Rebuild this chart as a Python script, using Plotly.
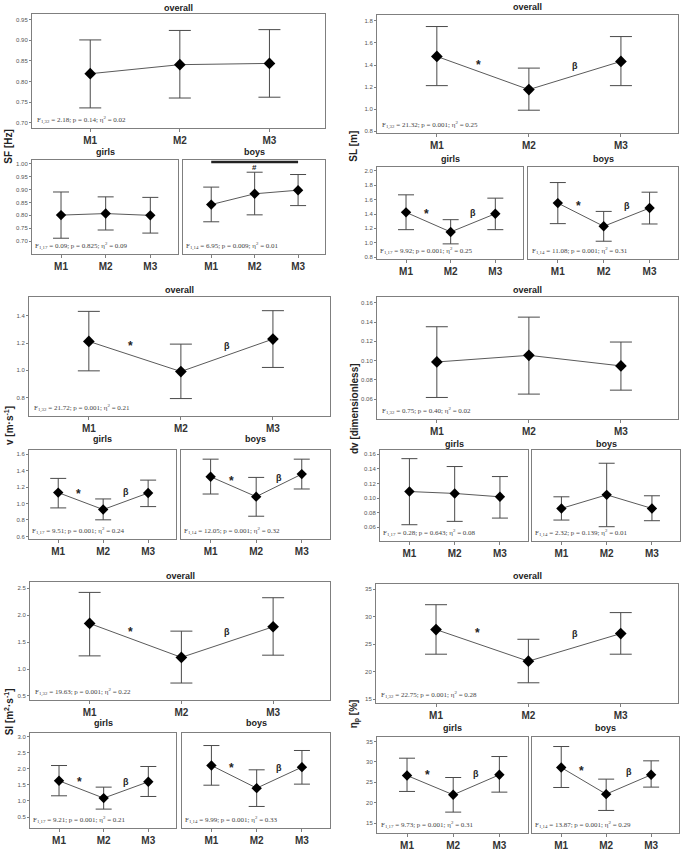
import plotly.graph_objects as go

W, H = 687, 859
categories = ["M1", "M2", "M3"]

# ---------------- SF [Hz] ----------------
sf_all_mean = [0.819, 0.841, 0.844]
sf_all_lo = [0.736, 0.760, 0.762]
sf_all_hi = [0.901, 0.924, 0.926]
sf_girls_mean = [0.801, 0.807, 0.800]
sf_girls_lo = [0.711, 0.743, 0.731]
sf_girls_hi = [0.891, 0.872, 0.870]
sf_boys_mean = [0.842, 0.884, 0.898]
sf_boys_lo = [0.775, 0.802, 0.838]
sf_boys_hi = [0.910, 0.968, 0.959]
sf_all_ticks = [0.70, 0.75, 0.80, 0.85, 0.90, 0.95]
sf_sub_ticks = [0.70, 0.75, 0.80, 0.85, 0.90, 0.95, 1.00]

# ---------------- v [m/s] ----------------
v_all_mean = [1.212, 0.991, 1.229]
v_all_lo = [0.996, 0.793, 1.021]
v_all_hi = [1.432, 1.192, 1.437]
v_girls_mean = [1.133, 0.927, 1.128]
v_girls_lo = [0.947, 0.802, 0.963]
v_girls_hi = [1.306, 1.056, 1.285]
v_boys_mean = [1.326, 1.084, 1.358]
v_boys_lo = [1.116, 0.846, 1.177]
v_boys_hi = [1.540, 1.318, 1.540]
v_all_ticks = [0.8, 1.0, 1.2, 1.4]
v_sub_ticks = [0.6, 0.8, 1.0, 1.2, 1.4, 1.6]

# ---------------- SI ----------------
si_all_mean = [1.848, 1.217, 1.786]
si_all_lo = [1.245, 0.740, 1.258]
si_all_hi = [2.425, 1.705, 2.326]
si_girls_mean = [1.626, 1.089, 1.595]
si_girls_lo = [1.161, 0.748, 1.140]
si_girls_hi = [2.100, 1.430, 2.070]
si_boys_mean = [2.101, 1.399, 2.050]
si_boys_lo = [1.490, 0.830, 1.523]
si_boys_hi = [2.720, 1.967, 2.566]
si_all_ticks = [0.5, 1.0, 1.5, 2.0, 2.5]
si_sub_ticks = [0.5, 1.0, 1.5, 2.0, 2.5, 3.0]

# ---------------- SL [m] ----------------
sl_all_mean = [1.478, 1.177, 1.433]
sl_all_lo = [1.213, 0.990, 1.213]
sl_all_hi = [1.749, 1.372, 1.658]
sl_girls_mean = [1.423, 1.150, 1.404]
sl_girls_lo = [1.182, 0.984, 1.182]
sl_girls_hi = [1.667, 1.321, 1.621]
sl_boys_mean = [1.552, 1.229, 1.483]
sl_boys_lo = [1.266, 1.021, 1.261]
sl_boys_hi = [1.838, 1.436, 1.704]
sl_all_ticks = [0.8, 1.0, 1.2, 1.4, 1.6, 1.8]
sl_sub_ticks = [0.8, 1.0, 1.2, 1.4, 1.6, 1.8, 2.0]

# ---------------- dv ----------------
dv_all_mean = [0.0986, 0.1055, 0.0945]
dv_all_lo = [0.0617, 0.0652, 0.0693]
dv_all_hi = [0.1352, 0.1452, 0.1193]
dv_girls_mean = [0.1090, 0.1064, 0.1018]
dv_girls_lo = [0.0636, 0.0682, 0.0727]
dv_girls_hi = [0.1540, 0.1432, 0.1295]
dv_boys_mean = [0.0859, 0.1045, 0.0859]
dv_boys_lo = [0.0700, 0.0609, 0.0691]
dv_boys_hi = [0.1018, 0.1477, 0.1032]
dv_all_ticks = [0.06, 0.08, 0.10, 0.12, 0.14, 0.16]
dv_sub_ticks = [0.06, 0.08, 0.10, 0.12, 0.14, 0.16]

# ---------------- eta_p [%] ----------------
eta_all_mean = [27.67, 21.90, 26.94]
eta_all_lo = [23.18, 17.97, 23.18]
eta_all_hi = [32.20, 25.90, 30.76]
eta_girls_mean = [26.67, 21.94, 26.84]
eta_girls_lo = [22.76, 17.69, 22.59]
eta_girls_hi = [30.92, 26.18, 31.33]
eta_boys_mean = [28.63, 22.10, 26.84]
eta_boys_lo = [23.73, 18.10, 23.82]
eta_boys_hi = [33.78, 25.78, 30.27]
eta_all_ticks = [15, 20, 25, 30, 35]
eta_sub_ticks = [15, 20, 25, 30, 35]

# statistics text
stats = {
    "sf_all": "F<sub>1,32</sub> = 2.18; p = 0.14; η<sup>2</sup> = 0.02",
    "sf_girls": "F<sub>1,17</sub> = 0.09; p = 0.825; η<sup>2</sup> = 0.09",
    "sf_boys": "F<sub>1,14</sub> = 6.95; p = 0.009; η<sup>2</sup> = 0.01",
    "v_all": "F<sub>1,32</sub> = 21.72; p = 0.001; η<sup>2</sup> = 0.21",
    "v_girls": "F<sub>1,17</sub> = 9.51; p = 0.001; η<sup>2</sup> = 0.24",
    "v_boys": "F<sub>1,14</sub> = 12.05; p = 0.001; η<sup>2</sup> = 0.32",
    "si_all": "F<sub>1,32</sub> = 19.63; p = 0.001; η<sup>2</sup> = 0.22",
    "si_girls": "F<sub>1,17</sub> = 9.21; p = 0.001; η<sup>2</sup> = 0.21",
    "si_boys": "F<sub>1,14</sub> = 9.99; p = 0.001; η<sup>2</sup> = 0.33",
    "sl_all": "F<sub>1,32</sub> = 21.32; p = 0.001; η<sup>2</sup> = 0.25",
    "sl_girls": "F<sub>1,17</sub> = 9.92; p = 0.001; η<sup>2</sup> = 0.25",
    "sl_boys": "F<sub>1,14</sub> = 11.08; p = 0.001; η<sup>2</sup> = 0.31",
    "dv_all": "F<sub>1,32</sub> = 0.75; p = 0.40; η<sup>2</sup> = 0.02",
    "dv_girls": "F<sub>1,17</sub> = 0.28; p = 0.643; η<sup>2</sup> = 0.08",
    "dv_boys": "F<sub>1,14</sub> = 2.32; p = 0.139; η<sup>2</sup> = 0.01",
    "eta_all": "F<sub>1,32</sub> = 22.75; p = 0.001; η<sup>2</sup> = 0.28",
    "eta_girls": "F<sub>1,17</sub> = 9.73; p = 0.001; η<sup>2</sup> = 0.31",
    "eta_boys": "F<sub>1,14</sub> = 13.87; p = 0.001; η<sup>2</sup> = 0.29",
}

# panels: (key, title, mean, lo, hi, ticks, tickfmt, box px (x0,x1,y0,y1), yrange, title_y, show_y, marks)
panels = [
    ("sf_all", "overall", sf_all_mean, sf_all_lo, sf_all_hi, sf_all_ticks, ".2f", (32, 325, 14, 128), (0.688, 0.964), 8, True, None),
    ("sf_girls", "girls", sf_girls_mean, sf_girls_lo, sf_girls_hi, sf_sub_ticks, ".2f", (32, 178, 160, 255), (0.648, 1.017), 152, True, None),
    ("sf_boys", "boys", sf_boys_mean, sf_boys_lo, sf_boys_hi, sf_sub_ticks, ".2f", (183, 325, 160, 255), (0.648, 1.017), 152, False, None),
    ("v_all", "overall", v_all_mean, v_all_lo, v_all_hi, v_all_ticks, ".1f", (29, 330, 298, 417), (0.665, 1.535), 291, True, (1.18, 1.18)),
    ("v_girls", "girls", v_girls_mean, v_girls_lo, v_girls_hi, v_sub_ticks, ".1f", (29, 176, 451, 540), (0.572, 1.652), 440, True, (1.116, 1.136)),
    ("v_boys", "boys", v_boys_mean, v_boys_lo, v_boys_hi, v_sub_ticks, ".1f", (181, 330, 451, 540), (0.572, 1.652), 440, False, (1.277, 1.31)),
    ("si_all", "overall", si_all_mean, si_all_lo, si_all_hi, si_all_ticks, ".1f", (30, 330, 583, 702), (0.418, 2.625), 577, True, (1.693, 1.693)),
    ("si_girls", "girls", si_girls_mean, si_girls_lo, si_girls_hi, si_sub_ticks, ".1f", (30, 176, 735, 830), (0.16, 3.10), 725, True, (1.574, 1.574)),
    ("si_boys", "boys", si_boys_mean, si_boys_lo, si_boys_hi, si_sub_ticks, ".1f", (182, 330, 735, 830), (0.16, 3.10), 725, False, (2.018, 2.018)),
    ("sl_all", "overall", sl_all_mean, sl_all_lo, sl_all_hi, sl_all_ticks, ".1f", (377, 678, 15, 133), (0.786, 1.854), 7, True, (1.402, 1.387)),
    ("sl_girls", "girls", sl_girls_mean, sl_girls_lo, sl_girls_hi, sl_sub_ticks, ".1f", (377, 523, 167, 260), (0.768, 2.06), 159, True, (1.404, 1.413)),
    ("sl_boys", "boys", sl_boys_mean, sl_boys_lo, sl_boys_hi, sl_sub_ticks, ".1f", (528, 678, 167, 260), (0.768, 2.06), 159, False, (1.506, 1.515)),
    ("dv_all", "overall", dv_all_mean, dv_all_lo, dv_all_hi, dv_all_ticks, ".2f", (377, 678, 298, 420), (0.0393, 0.1658), 291, True, None),
    ("dv_girls", "girls", dv_girls_mean, dv_girls_lo, dv_girls_hi, dv_sub_ticks, ".2f", (380, 528, 451, 542), (0.0417, 0.1659), 445, True, None),
    ("dv_boys", "boys", dv_boys_mean, dv_boys_lo, dv_boys_hi, dv_sub_ticks, ".2f", (532, 680, 451, 542), (0.0417, 0.1659), 445, False, None),
    ("eta_all", "overall", eta_all_mean, eta_all_lo, eta_all_hi, eta_all_ticks, "d", (376, 678, 585, 705), (14.22, 36.04), 577, True, (27.12, 26.94)),
    ("eta_girls", "girls", eta_girls_mean, eta_girls_lo, eta_girls_hi, eta_sub_ticks, "d", (377, 528, 739, 835), (12.55, 36.05), 730, True, (26.84, 27.0)),
    ("eta_boys", "boys", eta_boys_mean, eta_boys_lo, eta_boys_hi, eta_sub_ticks, "d", (532, 679, 739, 835), (12.55, 36.05), 730, False, (27.82, 27.65)),
]

SANS = "Liberation Sans"
SERIF = "Liberation Serif"
BOX = "#7f7f7f"

fig = go.Figure()
annotations = []
shapes = []
layout = {}

for i, (key, title, mean, lo, hi, ticks, fmt, box, yr, ty, show_y, marks) in enumerate(panels, start=1):
    xa = "x" if i == 1 else f"x{i}"
    ya = "y" if i == 1 else f"y{i}"
    overall = title == "overall"
    fig.add_trace(go.Scatter(
        x=categories, y=mean, mode="lines+markers", xaxis=xa, yaxis=ya,
        line=dict(color="#5a5a5a", width=1),
        marker=dict(symbol="diamond", size=9 if overall else 8, color="black"),
        error_y=dict(type="data", symmetric=False,
                     array=[h - m for h, m in zip(hi, mean)],
                     arrayminus=[m - l for m, l in zip(mean, lo)],
                     color="#4a4a4a", thickness=1, width=11 if overall else 8),
        showlegend=False, hoverinfo="skip"))
    x0, x1, y0, y1 = box
    xname = "xaxis" if i == 1 else f"xaxis{i}"
    yname = "yaxis" if i == 1 else f"yaxis{i}"
    layout[xname] = dict(
        domain=[x0 / W, x1 / W], anchor=ya, range=[-0.65, 2.62], type="category",
        showline=True, mirror=True, linecolor=BOX, linewidth=1,
        ticks="outside", ticklen=3, tickcolor=BOX,
        tickfont=dict(family=SANS, size=10, color="#333333", weight="bold"),
        showgrid=False, zeroline=False)
    ydict = dict(
        domain=[1 - y1 / H, 1 - y0 / H], anchor=xa, range=list(yr),
        showline=True, mirror=True, linecolor=BOX, linewidth=1,
        showgrid=False, zeroline=False)
    if show_y:
        ydict.update(tickvals=ticks, tickformat=fmt, ticks="outside", ticklen=2,
                     tickcolor=BOX, showticklabels=True,
                     tickfont=dict(family=SANS, size=6, color="#555555"))
    else:
        ydict.update(tickvals=[], ticks="", showticklabels=False)
    layout[yname] = ydict
    annotations.append(dict(
        x=(x0 + x1) / 2 / W, y=1 - ty / H, xref="paper", yref="paper",
        text=title, showarrow=False, xanchor="center", yanchor="middle",
        font=dict(family=SANS, size=9, color="#222222", weight="bold")))
    annotations.append(dict(
        x=0.01, y=0.01, xref=f"{xa} domain", yref=f"{ya} domain",
        text=stats[key], showarrow=False, xanchor="left", yanchor="bottom",
        font=dict(family=SERIF, size=7, color="#444444")))
    if marks is not None:
        annotations.append(dict(x=0.45, y=marks[0], xref=xa, yref=ya, text="*",
                                showarrow=False, yanchor="middle",
                                font=dict(family=SANS, size=12, color="#222222", weight="bold")))
        annotations.append(dict(x=1.5, y=marks[1], xref=xa, yref=ya, text="β",
                                showarrow=False, yanchor="middle",
                                font=dict(family=SANS, size=9, color="#222222", weight="bold")))
    if key == "sf_boys":
        shapes.append(dict(type="line", xref=xa, yref=ya, x0=0, x1=2, y0=1.008, y1=1.008,
                           line=dict(color="#222222", width=2.5)))
        annotations.append(dict(x=1, y=0.986, xref=xa, yref=ya, text="#",
                                showarrow=False, yanchor="middle",
                                font=dict(family=SANS, size=8, color="#222222", weight="bold")))

# y-axis group labels
ylabels = [
    ("SF [Hz]", 9, 147),
    ("v [m·s<sup>-1</sup>]", 9, 427),
    ("SI [m<sup>2</sup>·s<sup>-1</sup>]", 9, 714),
    ("SL [m]", 354, 147),
    ("dv [dimensionless]", 354, 410),
    ("η<sub>p</sub> [%]", 354, 716),
]
for txt, px, py in ylabels:
    annotations.append(dict(x=px / W, y=1 - py / H, xref="paper", yref="paper",
                            text=txt, textangle=-90, showarrow=False,
                            xanchor="center", yanchor="middle",
                            font=dict(family=SANS, size=10, color="#222222", weight="bold")))

fig.update_layout(
    width=W, height=H, margin=dict(l=0, r=0, t=0, b=0),
    paper_bgcolor="white", plot_bgcolor="white",
    annotations=annotations, shapes=shapes, **layout)

fig.write_html("out.html")
